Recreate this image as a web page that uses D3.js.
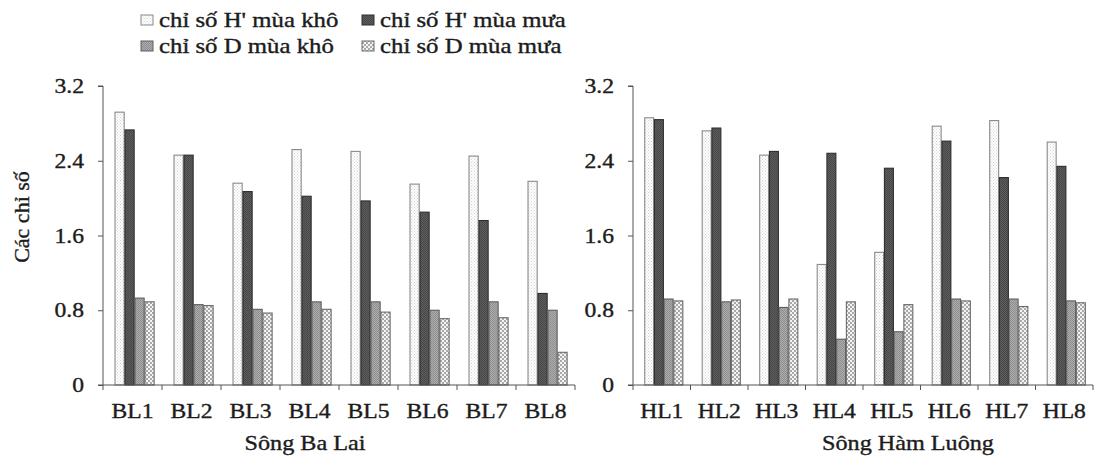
<!DOCTYPE html>
<html>
<head>
<meta charset="utf-8">
<script src="https://cdn.jsdelivr.net/npm/d3@7"></script>
<style>
  html, body { margin: 0; padding: 0; background: #fff; }
  svg { display: block; }
  text { font-family: "Liberation Serif", "Times New Roman", serif; fill: #1c1c1c; stroke: #1c1c1c; stroke-width: 0.35px; }
</style>
</head>
<body>
<svg id="chart" width="1095" height="466"></svg>
<script>
// Station codes along each river
const stationsBL = ["BL1", "BL2", "BL3", "BL4", "BL5", "BL6", "BL7", "BL8"];
const stationsHL = ["HL1", "HL2", "HL3", "HL4", "HL5", "HL6", "HL7", "HL8"];

// Series names (legend order)
const seriesNames = ["chỉ số H' mùa khô", "chỉ số H' mùa mưa", "chỉ số D mùa khô", "chỉ số D mùa mưa"];

// Sông Ba Lai
const blHDry = [2.92, 2.46, 2.16, 2.52, 2.50, 2.15, 2.45, 2.18];
const blHWet = [2.73, 2.46, 2.07, 2.02, 1.97, 1.85, 1.76, 0.98];
const blDDry = [0.93, 0.86, 0.81, 0.89, 0.89, 0.80, 0.89, 0.80];
const blDWet = [0.89, 0.85, 0.77, 0.81, 0.78, 0.71, 0.72, 0.35];

// Sông Hàm Luông
const hlHDry = [2.86, 2.72, 2.46, 1.29, 1.42, 2.77, 2.83, 2.60];
const hlHWet = [2.84, 2.75, 2.50, 2.48, 2.32, 2.61, 2.22, 2.34];
const hlDDry = [0.92, 0.89, 0.83, 0.49, 0.57, 0.92, 0.92, 0.90];
const hlDWet = [0.90, 0.91, 0.92, 0.89, 0.86, 0.90, 0.84, 0.88];

const yTicks = [0, 0.8, 1.6, 2.4, 3.2];

const svg = d3.select("#chart");
const SX = 1.18; // horizontal stretch of the serif lettering

// Fill patterns for the four series
const defs = svg.append("defs");
function dotPattern(id, bg, dot, size) {
  const p = defs.append("pattern").attr("id", id).attr("patternUnits", "userSpaceOnUse")
    .attr("width", size).attr("height", size);
  p.append("rect").attr("width", size).attr("height", size).attr("fill", bg);
  p.append("rect").attr("x", 0).attr("y", 0).attr("width", 1).attr("height", 1).attr("fill", dot);
  p.append("rect").attr("x", size / 2).attr("y", size / 2).attr("width", 1).attr("height", 1).attr("fill", dot);
}
dotPattern("pHDry", "#ffffff", "#d2d2d2", 3);
dotPattern("pHWet", "#5e5e5e", "#474747", 2);
dotPattern("pDDry", "#adadad", "#8e8e8e", 2);
{
  const p = defs.append("pattern").attr("id", "pDWet").attr("patternUnits", "userSpaceOnUse")
    .attr("width", 4).attr("height", 4);
  p.append("rect").attr("width", 4).attr("height", 4).attr("fill", "#f4f4f4");
  p.append("rect").attr("x", 0).attr("y", 0).attr("width", 2).attr("height", 2).attr("fill", "#a9a9a9");
  p.append("rect").attr("x", 2).attr("y", 2).attr("width", 2).attr("height", 2).attr("fill", "#a9a9a9");
}
const fills = ["url(#pHDry)", "url(#pHWet)", "url(#pDDry)", "url(#pDWet)"];
const strokes = ["#8a8a8a", "#2e2e2e", "#5e5e5e", "#6a6a6a"];

function stretchedText(g, x, y, str, size, anchor, sx) {
  return g.append("text")
    .attr("transform", `translate(${x},${y}) scale(${sx || SX},1)`)
    .attr("text-anchor", anchor || "start")
    .attr("font-size", size)
    .text(str);
}

function panel(opts) {
  const { x0, x1, yTop, yBottom, cats, series, title, titleX, showYTitle } = opts;
  const g = svg.append("g");
  const x = d3.scaleBand().domain(cats).range([x0, x1]).paddingInner(0).paddingOuter(0);
  const bw = x.bandwidth();
  const xs = d3.scaleBand().domain(d3.range(series.length)).range([bw * 0.19, bw * 0.88]).padding(0.08);
  const y = d3.scaleLinear().domain([0, 3.2]).range([yBottom, yTop]);

  // bars
  cats.forEach((c, i) => {
    series.forEach((vals, s) => {
      g.append("rect")
        .attr("x", x(c) + xs(s))
        .attr("y", y(vals[i]))
        .attr("width", xs.bandwidth())
        .attr("height", y(0) - y(vals[i]))
        .attr("fill", fills[s])
        .attr("stroke", strokes[s])
        .attr("stroke-width", 1.1);
    });
  });

  // y axis
  const yAxis = d3.axisLeft(y).tickValues(yTicks).tickSize(5);
  const ya = g.append("g").attr("transform", `translate(${x0},0)`).call(yAxis);
  ya.select(".domain").attr("stroke", "#555").attr("d", `M-5,${yTop}H0V${yBottom}`);
  ya.selectAll(".tick line").attr("stroke", "#555");
  ya.selectAll(".tick text").remove();
  yTicks.forEach(t => {
    stretchedText(g, x0 - 19, y(t) + 7, t === 0 ? "0" : d3.format(".1f")(t), 20, "end");
  });

  // x axis
  const xa = g.append("g");
  xa.append("line").attr("x1", x0 - 5).attr("x2", x1).attr("y1", yBottom).attr("y2", yBottom).attr("stroke", "#555");
  d3.range(cats.length + 1).forEach(k => {
    const xp = x0 + k * bw;
    xa.append("line").attr("x1", xp).attr("x2", xp).attr("y1", yBottom).attr("y2", yBottom + 5).attr("stroke", "#555");
  });
  cats.forEach(c => {
    stretchedText(g, x(c) + bw / 2, yBottom + 33, c, 20, "middle");
  });

  stretchedText(g, titleX, yBottom + 65, title, 20.5, "middle");

  if (showYTitle) {
    g.append("text")
      .attr("transform", `translate(29,217) rotate(-90)`)
      .attr("text-anchor", "middle")
      .attr("font-size", 22)
      .text("Các chỉ số");
  }
}

panel({
  x0: 103, x1: 575, yTop: 86, yBottom: 385,
  cats: stationsBL, series: [blHDry, blHWet, blDDry, blDWet],
  title: "Sông Ba Lai", titleX: 305, showYTitle: true
});
panel({
  x0: 633, x1: 1093, yTop: 86, yBottom: 385,
  cats: stationsHL, series: [hlHDry, hlHWet, hlDDry, hlDWet],
  title: "Sông Hàm Luông", titleX: 908, showYTitle: false
});

// legend
const legendPos = [[141, 20], [362, 20], [141, 46], [362, 46]];
const lg = svg.append("g");
seriesNames.forEach((name, i) => {
  const [lx, ly] = legendPos[i];
  lg.append("rect").attr("x", lx).attr("y", ly - 5).attr("width", 12).attr("height", 10)
    .attr("fill", fills[i]).attr("stroke", strokes[i]).attr("stroke-width", 1);
  stretchedText(lg, lx + 18, ly + 7, name, 20, "start", 1.24);
});
</script>
</body>
</html>
